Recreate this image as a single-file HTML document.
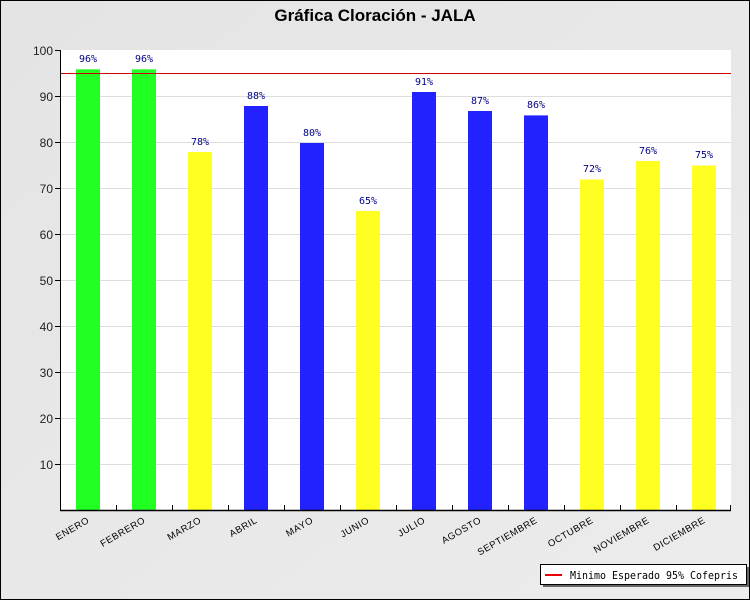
<!DOCTYPE html>
<html><head><meta charset="utf-8"><style>
body{margin:0;width:750px;height:600px;overflow:hidden}
</style></head><body>
<svg width="750" height="600" xmlns="http://www.w3.org/2000/svg" font-family="Liberation Sans, sans-serif">
<defs><linearGradient id="bg" x1="0" y1="0" x2="1" y2="1"><stop offset="0" stop-color="#e4e4e4"/><stop offset="1" stop-color="#ececec"/></linearGradient></defs>
<rect x="0.5" y="0.5" width="749" height="599" fill="url(#bg)" stroke="#000"/>
<text x="375" y="21" text-anchor="middle" font-size="17" font-weight="bold">Gráfica Cloración - JALA</text>
<rect x="60" y="50" width="671" height="460" fill="#fff"/>
<g stroke="#ddd" stroke-width="1">
<line x1="60" x2="731" y1="96.5" y2="96.5"/><line x1="60" x2="731" y1="142.5" y2="142.5"/><line x1="60" x2="731" y1="188.5" y2="188.5"/><line x1="60" x2="731" y1="234.5" y2="234.5"/><line x1="60" x2="731" y1="280.5" y2="280.5"/><line x1="60" x2="731" y1="326.5" y2="326.5"/><line x1="60" x2="731" y1="372.5" y2="372.5"/><line x1="60" x2="731" y1="418.5" y2="418.5"/><line x1="60" x2="731" y1="464.5" y2="464.5"/>
</g>
<g font-size="12" text-anchor="end" fill="#222">
<text x="53" y="55">100</text><text x="53" y="101">90</text><text x="53" y="147">80</text><text x="53" y="193">70</text><text x="53" y="239">60</text><text x="53" y="285">50</text><text x="53" y="331">40</text><text x="53" y="377">30</text><text x="53" y="423">20</text><text x="53" y="469">10</text>
</g>
<g stroke="#000"><line x1="55" x2="60" y1="50.5" y2="50.5"/><line x1="55" x2="60" y1="96.5" y2="96.5"/><line x1="55" x2="60" y1="142.5" y2="142.5"/><line x1="55" x2="60" y1="188.5" y2="188.5"/><line x1="55" x2="60" y1="234.5" y2="234.5"/><line x1="55" x2="60" y1="280.5" y2="280.5"/><line x1="55" x2="60" y1="326.5" y2="326.5"/><line x1="55" x2="60" y1="372.5" y2="372.5"/><line x1="55" x2="60" y1="418.5" y2="418.5"/><line x1="55" x2="60" y1="464.5" y2="464.5"/></g>
<g id="bars">
<rect x="76" y="69.3" width="24" height="440.7" fill="#22ff22"/>
<rect x="132" y="69.3" width="24" height="440.7" fill="#22ff22"/>
<rect x="188" y="152" width="24" height="358" fill="#ffff22"/>
<rect x="244" y="106" width="24" height="404" fill="#2222ff"/>
<rect x="300" y="143" width="24" height="367" fill="#2222ff"/>
<rect x="356" y="211" width="24" height="299" fill="#ffff22"/>
<rect x="412" y="92" width="24" height="418" fill="#2222ff"/>
<rect x="468" y="111" width="24" height="399" fill="#2222ff"/>
<rect x="524" y="115.4" width="24" height="394.6" fill="#2222ff"/>
<rect x="580" y="179.5" width="24" height="330.5" fill="#ffff22"/>
<rect x="636" y="161" width="24" height="349" fill="#ffff22"/>
<rect x="692" y="165.5" width="24" height="344.5" fill="#ffff22"/>
</g>
<g font-size="10" fill="#000088" text-anchor="middle" font-family="DejaVu Sans Mono, monospace">
<text x="88" y="62">96%</text><text x="144" y="62">96%</text><text x="200" y="145">78%</text><text x="256" y="99">88%</text><text x="312" y="136">80%</text><text x="368" y="204">65%</text><text x="424" y="85">91%</text><text x="480" y="104">87%</text><text x="536" y="108">86%</text><text x="592" y="172">72%</text><text x="648" y="154">76%</text><text x="704" y="158">75%</text>
</g>
<line x1="60" x2="731" y1="73.5" y2="73.5" stroke="#cc0000" stroke-width="1"/>
<line x1="60.5" x2="60.5" y1="50" y2="511" stroke="#000"/>
<line x1="60" x2="731" y1="510.5" y2="510.5" stroke="#000" stroke-width="1.5"/>
<g stroke="#000"><line x1="116.5" x2="116.5" y1="505" y2="510"/><line x1="172.5" x2="172.5" y1="505" y2="510"/><line x1="228.5" x2="228.5" y1="505" y2="510"/><line x1="284.5" x2="284.5" y1="505" y2="510"/><line x1="340.5" x2="340.5" y1="505" y2="510"/><line x1="396.5" x2="396.5" y1="505" y2="510"/><line x1="452.5" x2="452.5" y1="505" y2="510"/><line x1="508.5" x2="508.5" y1="505" y2="510"/><line x1="564.5" x2="564.5" y1="505" y2="510"/><line x1="620.5" x2="620.5" y1="505" y2="510"/><line x1="676.5" x2="676.5" y1="505" y2="510"/><line x1="730.5" x2="730.5" y1="505" y2="511"/></g>
<g font-size="9.5" text-anchor="end" fill="#000" letter-spacing="0.6">
<text transform="translate(90,522) rotate(-30)">ENERO</text>
<text transform="translate(146,522) rotate(-30)">FEBRERO</text>
<text transform="translate(202,522) rotate(-30)">MARZO</text>
<text transform="translate(258,522) rotate(-30)">ABRIL</text>
<text transform="translate(314,522) rotate(-30)">MAYO</text>
<text transform="translate(370,522) rotate(-30)">JUNIO</text>
<text transform="translate(426,522) rotate(-30)">JULIO</text>
<text transform="translate(482,522) rotate(-30)">AGOSTO</text>
<text transform="translate(538,522) rotate(-30)">SEPTIEMBRE</text>
<text transform="translate(594,522) rotate(-30)">OCTUBRE</text>
<text transform="translate(650,522) rotate(-30)">NOVIEMBRE</text>
<text transform="translate(706,522) rotate(-30)">DICIEMBRE</text>
</g>
<rect x="543" y="567" width="206" height="20" fill="#666"/>
<rect x="540.5" y="564.5" width="206" height="20" fill="#fff" stroke="#000"/>
<line x1="545" x2="562" y1="575" y2="575" stroke="#ee0000" stroke-width="2"/>
<text x="570" y="579" font-size="11" font-family="DejaVu Sans Mono, monospace" textLength="168" lengthAdjust="spacingAndGlyphs">Minimo Esperado 95% Cofepris</text>
</svg>
</body></html>
